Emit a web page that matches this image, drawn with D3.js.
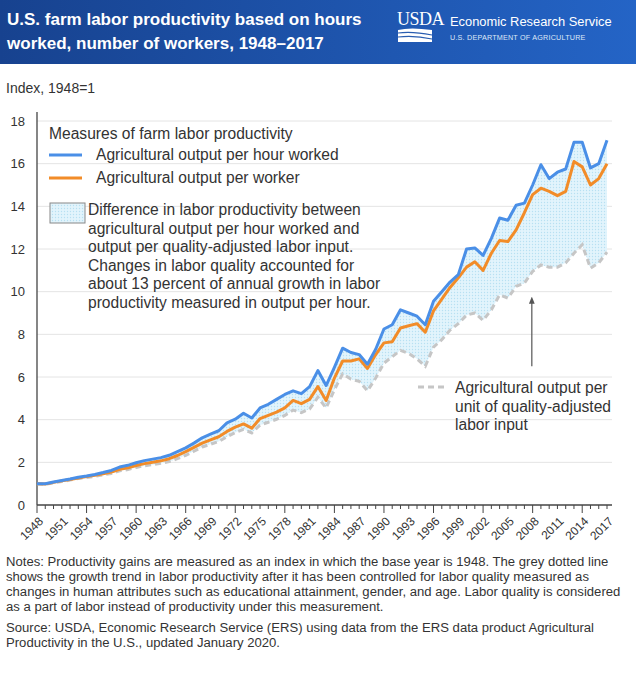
<!DOCTYPE html>
<html lang="en">
<head>
<meta charset="utf-8">
<title>U.S. farm labor productivity, 1948-2017</title>
<script src="https://d3js.org/d3.v7.min.js"></script>
<style>
  body { margin: 0; background: #fff; }
  svg text { font-family: 'Liberation Sans', Arial, sans-serif; fill: #333; }
</style>
</head>
<body>
<div id="chart"></div>
<script>
  // Data (index, 1948 = 1)
  var years = d3.range(1948, 2018);

  var perHour = [
    1.00, 1.00, 1.08, 1.15, 1.22, 1.30, 1.36, 1.43, 1.52, 1.62,
    1.78, 1.86, 1.98, 2.08, 2.15, 2.22, 2.33, 2.50, 2.68, 2.90,
    3.15, 3.32, 3.48, 3.85, 4.02, 4.30, 4.08, 4.55, 4.72, 4.95,
    5.18, 5.35, 5.22, 5.55, 6.30, 5.60, 6.45, 7.35, 7.15, 7.05,
    6.60, 7.30, 8.25, 8.45, 9.15, 9.00, 8.85, 8.45, 9.55, 10.00,
    10.45, 10.80, 12.00, 12.05, 11.70, 12.50, 13.45, 13.35, 14.05, 14.15,
    15.00, 15.95, 15.30, 15.60, 15.75, 17.00, 17.00, 15.80, 16.00, 17.10
  ];

  var perWorker = [
    1.00, 0.98, 1.06, 1.13, 1.20, 1.27, 1.33, 1.39, 1.46, 1.54,
    1.67, 1.74, 1.85, 1.94, 2.00, 2.07, 2.17, 2.32, 2.50, 2.70,
    2.90, 3.05, 3.20, 3.45, 3.65, 3.80, 3.60, 4.05, 4.20, 4.35,
    4.55, 4.90, 4.75, 4.95, 5.55, 4.90, 5.95, 6.75, 6.75, 6.85,
    6.40, 7.05, 7.60, 7.65, 8.30, 8.40, 8.50, 8.10, 9.10, 9.65,
    10.20, 10.65, 11.15, 11.40, 11.00, 11.80, 12.40, 12.35, 12.90, 13.70,
    14.55, 14.85, 14.70, 14.50, 14.70, 16.10, 15.85, 15.00, 15.30, 16.00
  ];

  var qualityAdj = [
    1.00, 0.97, 1.04, 1.10, 1.17, 1.24, 1.29, 1.34, 1.41, 1.48,
    1.60, 1.66, 1.76, 1.84, 1.89, 1.95, 2.04, 2.17, 2.33, 2.52,
    2.72, 2.85, 2.98, 3.20, 3.40, 3.55, 3.38, 3.75, 3.88, 4.02,
    4.20, 4.45, 4.33, 4.50, 5.05, 4.55, 5.40, 6.15, 5.90, 5.80,
    5.35, 5.95, 6.65, 6.95, 7.25, 7.10, 6.85, 6.50, 7.40, 7.75,
    8.20, 8.50, 8.90, 9.00, 8.65, 9.15, 9.85, 9.70, 10.25, 10.40,
    10.95, 11.25, 11.15, 11.15, 11.35, 11.80, 12.20, 11.10, 11.35, 11.85
  ];

  var yTicks = [0, 2, 4, 6, 8, 10, 12, 14, 16, 18];
  var xLabelYears = d3.range(1948, 2018, 3);
  var xMajorYears = d3.range(1948, 2018, 6);

  var titleLines = ["U.S. farm labor productivity based on hours", "worked, number of workers, 1948\u20132017"];
  var legendTitle = "Measures of farm labor productivity";
  var seriesNames = ["Agricultural output per hour worked", "Agricultural output per worker"];
  var diffLines = [
    "Difference in labor productivity between",
    "agricultural output per hour worked and",
    "output per quality-adjusted labor input.",
    "Changes in labor quality accounted for",
    "about 13 percent of annual growth in labor",
    "productivity measured in output per hour."
  ];
  var qualityLines = ["Agricultural output per", "unit of quality-adjusted", "labor input"];
  var noteLines = [
    "Notes: Productivity gains are measured as an index in which the base year is 1948. The grey dotted line",
    "shows the growth trend in labor productivity after it has been controlled for labor quality measured as",
    "changes in human attributes such as educational attainment, gender, and age. Labor quality is considered",
    "as a part of labor instead of productivity under this measurement."
  ];
  var sourceLines = [
    "Source: USDA, Economic Research Service (ERS) using data from the ERS data product Agricultural",
    "Productivity in the U.S., updated January 2020."
  ];

  var rows = years.map(function (yr, i) {
    return { year: yr, hour: perHour[i], worker: perWorker[i], quality: qualityAdj[i] };
  });

  // scale a text's font so its first node spans the given width
  function fitWidth(sel, width) {
    var node = sel.node();
    var fs = parseFloat(sel.style("font-size"));
    var w = node.getComputedTextLength();
    var size = fs * width / w;
    sel.style("font-size", size + "px");
    return size;
  }

  var W = 636, H = 676;
  var svg = d3.select("#chart").append("svg")
    .attr("width", W)
    .attr("height", H);

  var defs = svg.append("defs");
  var grad = defs.append("linearGradient").attr("id", "hdr")
    .attr("x1", "0%").attr("x2", "100%").attr("y1", "0%").attr("y2", "0%");
  grad.append("stop").attr("offset", "0%").attr("stop-color", "#17428f");
  grad.append("stop").attr("offset", "100%").attr("stop-color", "#2464c6");

  var pat = defs.append("pattern").attr("id", "dots")
    .attr("width", 3).attr("height", 3).attr("patternUnits", "userSpaceOnUse");
  pat.append("rect").attr("width", 3).attr("height", 3).attr("fill", "#e2f4fc");
  pat.append("circle").attr("cx", 1.5).attr("cy", 1.5).attr("r", 0.7).attr("fill", "#b7e0f2");

  defs.append("marker").attr("id", "arrow")
    .attr("viewBox", "0 0 10 10").attr("refX", 5).attr("refY", 5)
    .attr("markerWidth", 6).attr("markerHeight", 6).attr("orient", "auto")
    .append("path").attr("d", "M0,1L10,5L0,9Z").attr("fill", "#555");

  // header band
  svg.append("rect").attr("width", W).attr("height", 64).attr("fill", "url(#hdr)");
  var titles = svg.selectAll(".title").data(titleLines).enter().append("text")
    .attr("class", "title")
    .attr("x", 7).attr("y", function (d, i) { return 25 + i * 24; })
    .style("fill", "#fff").style("font-weight", "bold").style("font-size", "19px")
    .text(function (d) { return d; });
  var tSize = fitWidth(titles.filter(function (d, i) { return i === 0; }), 355);
  titles.style("font-size", tSize + "px");

  // USDA mark
  svg.append("text").attr("x", 397).attr("y", 25)
    .style("font-family", "'Liberation Serif', serif").style("font-size", "18px")
    .style("fill", "#fff").style("letter-spacing", "-0.5px").text("USDA");
  svg.append("path")
    .attr("d", "M398,30 Q410,27 432,30 L432,42 L398,42 Z")
    .attr("fill", "#fff");
  svg.append("path")
    .attr("d", "M398,33 Q412,31 432,35 M398,37 Q414,35 432,39")
    .attr("fill", "none").attr("stroke", "#2a5db0").attr("stroke-width", 1.2);
  var ers = svg.append("text").attr("x", 450).attr("y", 26)
    .style("fill", "#fff").style("font-size", "15.5px").text("Economic Research Service");
  fitWidth(ers, 162);
  var dept = svg.append("text").attr("x", 450).attr("y", 40)
    .style("fill", "#dfe8f7").style("font-size", "7px").style("letter-spacing", "0.2px")
    .text("U.S. DEPARTMENT OF AGRICULTURE");
  fitWidth(dept, 136);

  svg.append("text").attr("x", 6).attr("y", 93).style("font-size", "14px").text("Index, 1948=1");

  // scales
  var x = d3.scaleLinear().domain([1948, 2017]).range([37, 607]);
  var y = d3.scaleLinear().domain([0, 18]).range([505, 121]);

  // gridlines
  svg.append("g").selectAll("line").data(yTicks.slice(1)).enter().append("line")
    .attr("x1", 37).attr("x2", 612)
    .attr("y1", function (d) { return y(d); }).attr("y2", function (d) { return y(d); })
    .attr("stroke", "#e4e4e4").attr("stroke-width", 1);

  // y axis
  var yAxis = svg.append("g").attr("transform", "translate(37,0)")
    .call(d3.axisLeft(y).tickValues(yTicks).tickSize(0).tickPadding(12));
  yAxis.select(".domain").remove();
  yAxis.selectAll("text").style("font-size", "13px").style("fill", "#333")
    .style("font-family", "'Liberation Sans', Arial, sans-serif");
  svg.append("line").attr("x1", 37).attr("x2", 37).attr("y1", 112).attr("y2", 505)
    .attr("stroke", "#444").attr("stroke-width", 1.3);

  // shaded difference between per-hour and quality-adjusted series
  svg.append("path").datum(rows)
    .attr("fill", "url(#dots)")
    .attr("d", d3.area()
      .x(function (d) { return x(d.year); })
      .y0(function (d) { return y(d.quality); })
      .y1(function (d) { return y(d.hour); }));

  var line = function (key) {
    return d3.line().x(function (d) { return x(d.year); }).y(function (d) { return y(d[key]); });
  };

  svg.append("path").datum(rows)
    .attr("fill", "none").attr("stroke", "#c6c6c6").attr("stroke-width", 3)
    .attr("stroke-dasharray", "6,4")
    .attr("d", line("quality"));
  svg.append("path").datum(rows)
    .attr("fill", "none").attr("stroke", "#f28c28").attr("stroke-width", 3)
    .attr("stroke-linejoin", "round")
    .attr("d", line("worker"));
  svg.append("path").datum(rows)
    .attr("fill", "none").attr("stroke", "#4a8fe7").attr("stroke-width", 3)
    .attr("stroke-linejoin", "round")
    .attr("d", line("hour"));

  // x axis
  var xAxisG = svg.append("g").attr("transform", "translate(0,505)");
  xAxisG.append("line").attr("x1", 37).attr("x2", 612).attr("stroke", "#444").attr("stroke-width", 1.3);
  xAxisG.selectAll(".minor").data(years).enter().append("line")
    .attr("x1", function (d) { return x(d); }).attr("x2", function (d) { return x(d); })
    .attr("y1", 0).attr("y2", function (d) { return xMajorYears.indexOf(d) >= 0 ? 8 : 4; })
    .attr("stroke", "#444").attr("stroke-width", 1);
  xAxisG.selectAll(".lbl").data(xLabelYears).enter().append("text")
    .attr("transform", function (d) { return "translate(" + (x(d) + 4) + ",14) rotate(-45)"; })
    .attr("text-anchor", "end")
    .attr("dy", "0.35em")
    .style("font-size", "12px")
    .text(function (d) { return d; });

  // legend
  var legendFont = "15.6px";
  svg.append("text").attr("x", 49).attr("y", 139).style("font-size", legendFont).text(legendTitle);
  var legendColors = ["#4a8fe7", "#f28c28"];
  seriesNames.forEach(function (name, i) {
    var ly = 155 + i * 23;
    svg.append("line").attr("x1", 49).attr("x2", 82).attr("y1", ly).attr("y2", ly)
      .attr("stroke", legendColors[i]).attr("stroke-width", 3);
    svg.append("text").attr("x", 96).attr("y", ly + 5).style("font-size", legendFont).text(name);
  });
  svg.append("rect").attr("x", 50).attr("y", 203).attr("width", 35).attr("height", 20)
    .attr("fill", "url(#dots)").attr("stroke", "#888").attr("stroke-width", 1);
  svg.selectAll(".diff").data(diffLines).enter().append("text")
    .attr("x", 88).attr("y", function (d, i) { return 215 + i * 18.6; })
    .style("font-size", legendFont).text(function (d) { return d; });

  // quality-adjusted annotation
  svg.append("line")
    .attr("x1", x(2007.9)).attr("x2", x(2007.9))
    .attr("y1", y(6.5)).attr("y2", y(9.6))
    .attr("stroke", "#555").attr("stroke-width", 1.2)
    .attr("marker-end", "url(#arrow)");
  svg.append("line").attr("x1", 418).attr("x2", 448).attr("y1", 387).attr("y2", 387)
    .attr("stroke", "#c6c6c6").attr("stroke-width", 3).attr("stroke-dasharray", "6,4");
  svg.selectAll(".qual").data(qualityLines).enter().append("text")
    .attr("x", 455).attr("y", function (d, i) { return 393 + i * 18.5; })
    .style("font-size", legendFont).text(function (d) { return d; });

  // notes and source
  var notes = svg.selectAll(".note").data(noteLines).enter().append("text")
    .attr("class", "note")
    .attr("x", 6).attr("y", function (d, i) { return 566 + i * 15; })
    .style("font-size", "11.5px").text(function (d) { return d; });
  var nSize = fitWidth(notes.filter(function (d, i) { return i === 0; }), 603);
  notes.style("font-size", nSize + "px");
  svg.selectAll(".src").data(sourceLines).enter().append("text")
    .attr("x", 6).attr("y", function (d, i) { return 632 + i * 15; })
    .style("font-size", nSize + "px").text(function (d) { return d; });
</script>
</body>
</html>
